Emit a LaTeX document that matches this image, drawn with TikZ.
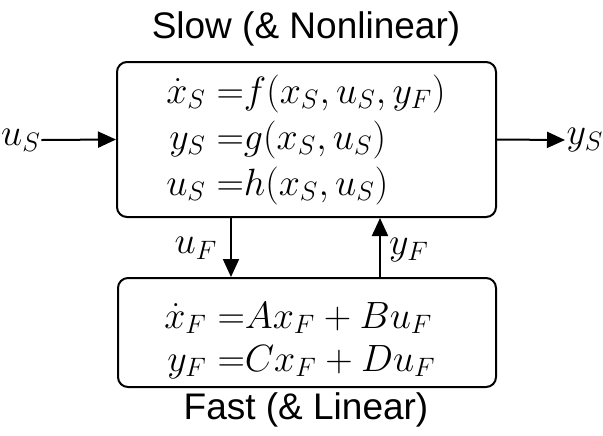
\documentclass[tikz,border=0pt]{standalone}
\usepackage{fix-cm}
\usepackage{fontspec}
\setsansfont{Liberation Sans}
\usetikzlibrary{arrows.meta}
\tikzset{
  blockbox/.style={draw, line width=1pt, rounded corners=5pt, inner sep=0pt},
  arr/.style={line width=1pt, -{Triangle[length=9pt,width=8pt]}},
  title/.style={font=\sffamily\fontsize{18.5}{22}\selectfont},
  mathlbl/.style={font=\fontsize{19}{22}\selectfont, inner sep=0pt},
}
\begin{document}
\begin{tikzpicture}[x=0.5pt,y=-0.5pt]
\useasboundingbox (0,0) rectangle (603,435);
\node[blockbox, minimum width=189.5pt, minimum height=77.5pt] (slow) at (306.5,139.5) {};
\node[blockbox, minimum width=189pt, minimum height=54.5pt] (fast) at (307,332.5) {};
\node[title] (tslow) at (306,29) {Slow (\& Nonlinear)};
\node[title] (tfast) at (306,410) {Fast (\& Linear)};
\node[mathlbl] (eqs) at (306,140) {\fontsize{19}{23}\selectfont
  \begin{tabular}{@{}r@{}l@{}}
  $\dot{x}_S =$ & $f(x_S,u_S,y_F)$\\
  $y_S =$ & $g(x_S,u_S)$\\
  $u_S =$ & $h(x_S,u_S)$
  \end{tabular}};
\node[mathlbl] (eqf) at (300,341) {\fontsize{19}{21.5}\selectfont
  \begin{tabular}{@{}r@{}l@{}}
  $\dot{x}_F =$ & $Ax_F+Bu_F$\\
  $y_F =$ & $Cx_F+Du_F$
  \end{tabular}};
\node[mathlbl] (us) at (21,140) {$u_S$};
\node[mathlbl] (ys) at (585,140) {$y_S$};
\node[mathlbl] (uf) at (196,248) {$u_F$};
\node[mathlbl] (yf) at (409,250) {$y_F$};
\coordinate (ufx) at (231,0);
\coordinate (yfx) at (380,0);
\coordinate (ysend) at (565,140);
\draw[arr] (us.east) -- (slow.west);
\draw[arr] (slow.east) -- (ysend);
\draw[arr] (slow.south -| ufx) -- (fast.north -| ufx);
\draw[arr] (fast.north -| yfx) -- (slow.south -| yfx);
\end{tikzpicture}
\end{document}
